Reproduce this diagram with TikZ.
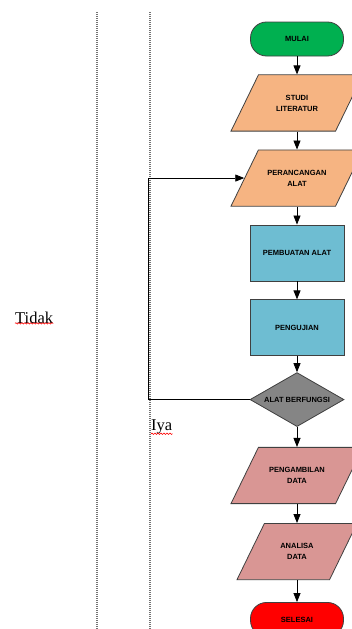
\documentclass[tikz,border=0pt]{standalone}
\usepackage{fontspec}
\setmainfont{Liberation Serif}
\setsansfont{Liberation Sans}
\usepackage{tikz}
\usetikzlibrary{arrows.meta, shapes.geometric, positioning, decorations.pathmorphing}

\definecolor{startgreen}{HTML}{00B050}
\definecolor{designorange}{HTML}{F6B482}
\definecolor{buildblue}{HTML}{6EBDD2}
\definecolor{checkgray}{HTML}{858585}
\definecolor{datapink}{HTML}{D99694}
\definecolor{endred}{HTML}{FF0000}

\begin{document}
\begin{tikzpicture}[
  x=1pt, y=1pt,
  node distance=18pt,
  line/.style={draw, -{Triangle[width=7pt,length=9pt]}, line width=0.8pt},
  shapetext/.style={font=\fontsize{7.5}{11}\selectfont\sffamily\bfseries, align=center,
              draw=black!75, line width=0.8pt},
  terminal/.style={shapetext, rectangle, rounded corners=16pt,
              minimum width=93pt, minimum height=34pt},
  iobox/.style={shapetext, trapezium, trapezium left angle=64, trapezium right angle=116,
              trapezium stretches body, inner ysep=20pt, minimum width=132pt, fill=datapink},
  procbox/.style={shapetext, rectangle, fill=buildblue, minimum width=94pt, minimum height=56pt},
  decision/.style={shapetext, diamond, fill=checkgray, inner sep=0pt,
              minimum width=94pt, minimum height=54pt},
  margin/.style={draw=black!55, line width=1.2pt, dash pattern=on 1pt off 1pt},
  answer/.style={font=\fontsize{16.5}{18}\selectfont, inner sep=0pt},
  squiggle/.style={draw=red, line width=0.6pt, decorate,
              decoration={snake, amplitude=0.7pt, segment length=3pt}}
]
\useasboundingbox (0,0) rectangle (352,-629);

% =======================================================
%                     PAGE MARGINS
% =======================================================
\coordinate (lefttop) at (97,-12);
\coordinate (leftbot) at (97,-629);
\coordinate (righttop) at (150,-12);
\coordinate (rightbot) at (150,-629);
\draw[margin] (lefttop) -- (leftbot);
\draw[margin] (righttop) -- (rightbot);

% =======================================================
%                     FLOW STEPS
% =======================================================
\node[terminal, fill=startgreen] (start) at (297,-39) {MULAI};
\node[iobox, fill=designorange] (study) [below=of start] {STUDI\\LITERATUR};
\node[iobox, fill=designorange] (design) [below=of study] {PERANCANGAN\\ALAT};
\node[procbox] (build) [below=of design] {PEMBUATAN ALAT};
\node[procbox] (test) [below=of build] {PENGUJIAN};
\node[decision] (check) [below=16pt of test] {\makebox[0pt]{ALAT BERFUNGSI}};
\node[iobox] (collect) [below=20pt of check] {PENGAMBILAN\\DATA};
\node[iobox, minimum width=120pt] (analysis) [below=19pt of collect] {ANALISA\\DATA};
\node[terminal, fill=endred] (finish) [below=22pt of analysis] {SELESAI};

% =======================================================
%                     CONNECTIONS
% =======================================================
\foreach \a/\b in {start/study, study/design, design/build, build/test,
                   test/check, check/collect, collect/analysis, analysis/finish}
  \draw[line] (\a.south) -- (\b.north);

% back to design when the test fails
\coordinate (loopx) at (148,0);
\draw[line] (check.west) -- (check.west -| loopx) |- (design.west);

% answers
\node[answer, anchor=base west] (no) at (15,-323) {Tidak};
\node[answer, anchor=base west] (yes) at (151,-430) {Iya};
\draw[squiggle] (no.south west) -- (no.south east);
\draw[squiggle] (yes.south west) -- (yes.south east);

\end{tikzpicture}
\end{document}
